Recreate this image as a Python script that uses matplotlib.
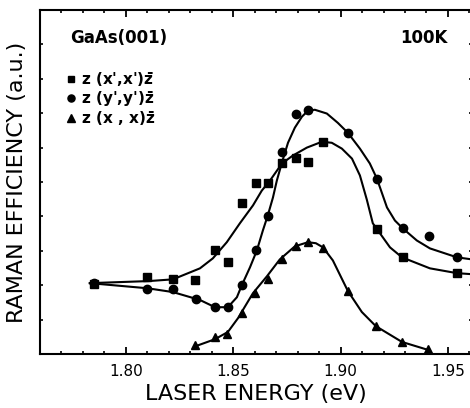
import numpy as np
import matplotlib
matplotlib.use("Agg")
import matplotlib.pyplot as plt
from matplotlib.ticker import MultipleLocator, FixedLocator

plt.rcParams['font.family'] = ['DejaVu Sans']
plt.rcParams['mathtext.fontset'] = 'custom'
plt.rcParams['mathtext.rm'] = 'DejaVu Sans:bold'
plt.rcParams['mathtext.it'] = 'DejaVu Sans:bold'

# measured points: z(x',x')z
sq_x = [1.785, 1.810, 1.822, 1.832, 1.8415, 1.8475, 1.854, 1.8605, 1.866, 1.8727,
        1.879, 1.885, 1.892, 1.917, 1.929, 1.954]
sq_y = [2.03, 2.23, 2.17, 2.14, 3.01, 2.67, 4.38, 4.96, 4.96, 5.54,
        5.71, 5.59, 6.17, 3.62, 2.81, 2.35]

# measured points: z(y',y')z
ci_x = [1.785, 1.810, 1.822, 1.8326, 1.8415, 1.8475, 1.854, 1.8605, 1.866, 1.8727,
        1.879, 1.885, 1.9034, 1.917, 1.929, 1.941, 1.954]
ci_y = [2.06, 1.88, 1.88, 1.59, 1.36, 1.36, 2.00, 3.01, 4.00, 5.86,
        6.99, 7.10, 6.43, 5.10, 3.65, 3.43, 2.81]

# measured points: z(x,x)z
tr_x = [1.832, 1.8415, 1.847, 1.854, 1.860, 1.866, 1.8727, 1.879, 1.885, 1.892,
        1.9034, 1.9164, 1.9286, 1.9407]
tr_y = [0.26, 0.49, 0.58, 1.19, 1.77, 2.17, 2.75, 3.13, 3.25, 3.07,
        1.83, 0.81, 0.35, 0.14]

# fitted curves
sq_fit_x = [1.7832, 1.8107, 1.8219, 1.8345, 1.8405, 1.8470, 1.8531, 1.8592, 1.8633,
            1.8671, 1.8727, 1.8778, 1.8843, 1.8913, 1.8959, 1.9006, 1.9053, 1.9090,
            1.9122, 1.9150, 1.9174, 1.9230, 1.9286, 1.9355, 1.9416, 1.9542, 1.9612]
sq_fit_y = [2.06, 2.12, 2.17, 2.49, 2.78, 3.25, 3.80, 4.32, 4.75,
            5.04, 5.54, 5.77, 6.00, 6.17, 6.14, 5.97, 5.68, 5.19,
            4.49, 3.80, 3.59, 3.10, 2.81, 2.64, 2.49, 2.35, 2.32]

ci_fit_x = [1.7832, 1.8102, 1.8219, 1.8345, 1.8415, 1.8475, 1.8517, 1.8540, 1.8578,
            1.8610, 1.8638, 1.8661, 1.8685, 1.8703, 1.8727, 1.8755, 1.8787, 1.8820,
            1.8848, 1.8880, 1.8936, 1.8987, 1.9034, 1.9090, 1.9136, 1.9169, 1.9216,
            1.9253, 1.9290, 1.9355, 1.9416, 1.9542, 1.9612]
ci_fit_y = [2.06, 1.91, 1.80, 1.57, 1.36, 1.36, 1.65, 2.00, 2.52,
            3.01, 3.59, 4.03, 4.55, 5.04, 5.57, 6.14, 6.58, 6.90,
            7.07, 7.10, 6.99, 6.72, 6.43, 5.97, 5.54, 5.10, 4.26,
            3.88, 3.65, 3.30, 3.07, 2.81, 2.75]

tr_fit_x = [1.8326, 1.8415, 1.8475, 1.8522, 1.8592, 1.8657, 1.8717, 1.8787, 1.8848,
            1.8885, 1.8918, 1.8964, 1.9034, 1.9099, 1.9164, 1.9286, 1.9407]
tr_fit_y = [0.23, 0.43, 0.64, 1.04, 1.77, 2.26, 2.75, 3.13, 3.25,
            3.22, 3.10, 2.72, 1.83, 1.22, 0.81, 0.35, 0.12]

sq_label = "z (x',x')$\\bar{z}$"
ci_label = "z (y',y')$\\bar{z}$"
tr_label = "z (x , x)$\\bar{z}$"

fig = plt.figure(figsize=(4.7, 4.08), dpi=100)
ax = fig.add_axes([40 / 470, 54 / 408, 432 / 470, 344 / 408])

for fx, fy in [(sq_fit_x, sq_fit_y), (ci_fit_x, ci_fit_y), (tr_fit_x, tr_fit_y)]:
    ax.plot(fx, fy, color='black', lw=1.5, solid_joinstyle='round')

h1, = ax.plot(sq_x, sq_y, 's', color='black', ms=5.5, ls='none', label=sq_label)
h2, = ax.plot(ci_x, ci_y, 'o', color='black', ms=6, ls='none', label=ci_label)
h3, = ax.plot(tr_x, tr_y, '^', color='black', ms=6, ls='none', label=tr_label)

ax.set_xlim(1.76, 1.9612)
ax.set_ylim(0, 10)

ax.xaxis.set_major_locator(FixedLocator([1.80, 1.85, 1.90, 1.95]))
ax.xaxis.set_minor_locator(MultipleLocator(0.01))
ax.set_xticklabels(['1.80', '1.85', '1.90', '1.95'])
ax.yaxis.set_major_locator(FixedLocator(np.arange(1, 10)))
ax.set_yticklabels([])

ax.tick_params(axis='x', which='major', direction='in', length=5, width=1.3,
               top=True, labelsize=11, pad=7)
ax.tick_params(axis='x', which='minor', direction='in', length=2.5, width=1.2, top=True)
ax.tick_params(axis='y', which='major', direction='in', length=2.5, width=1.2, right=True)

for s in ax.spines.values():
    s.set_linewidth(1.5)

ax.set_xlabel('LASER ENERGY (eV)', fontsize=16, labelpad=4)
ax.set_ylabel('RAMAN EFFICIENCY (a.u.)', fontsize=16, labelpad=6)

ax.text(0.069, 0.919, 'GaAs(001)', transform=ax.transAxes, fontsize=12,
        fontweight='bold', va='center', ha='left')
ax.text(0.889, 0.919, '100K', transform=ax.transAxes, fontsize=12,
        fontweight='bold', va='center', ha='center')

ax.legend(handles=[h1, h2, h3], loc='upper left', bbox_to_anchor=(0.062, 0.826),
          frameon=False, prop={'size': 11, 'weight': 'bold'}, handlelength=0.6,
          handletextpad=0.3, labelspacing=0.0, borderpad=0, borderaxespad=0,
          markerscale=0.85)

fig.savefig('out.png', dpi=100)
